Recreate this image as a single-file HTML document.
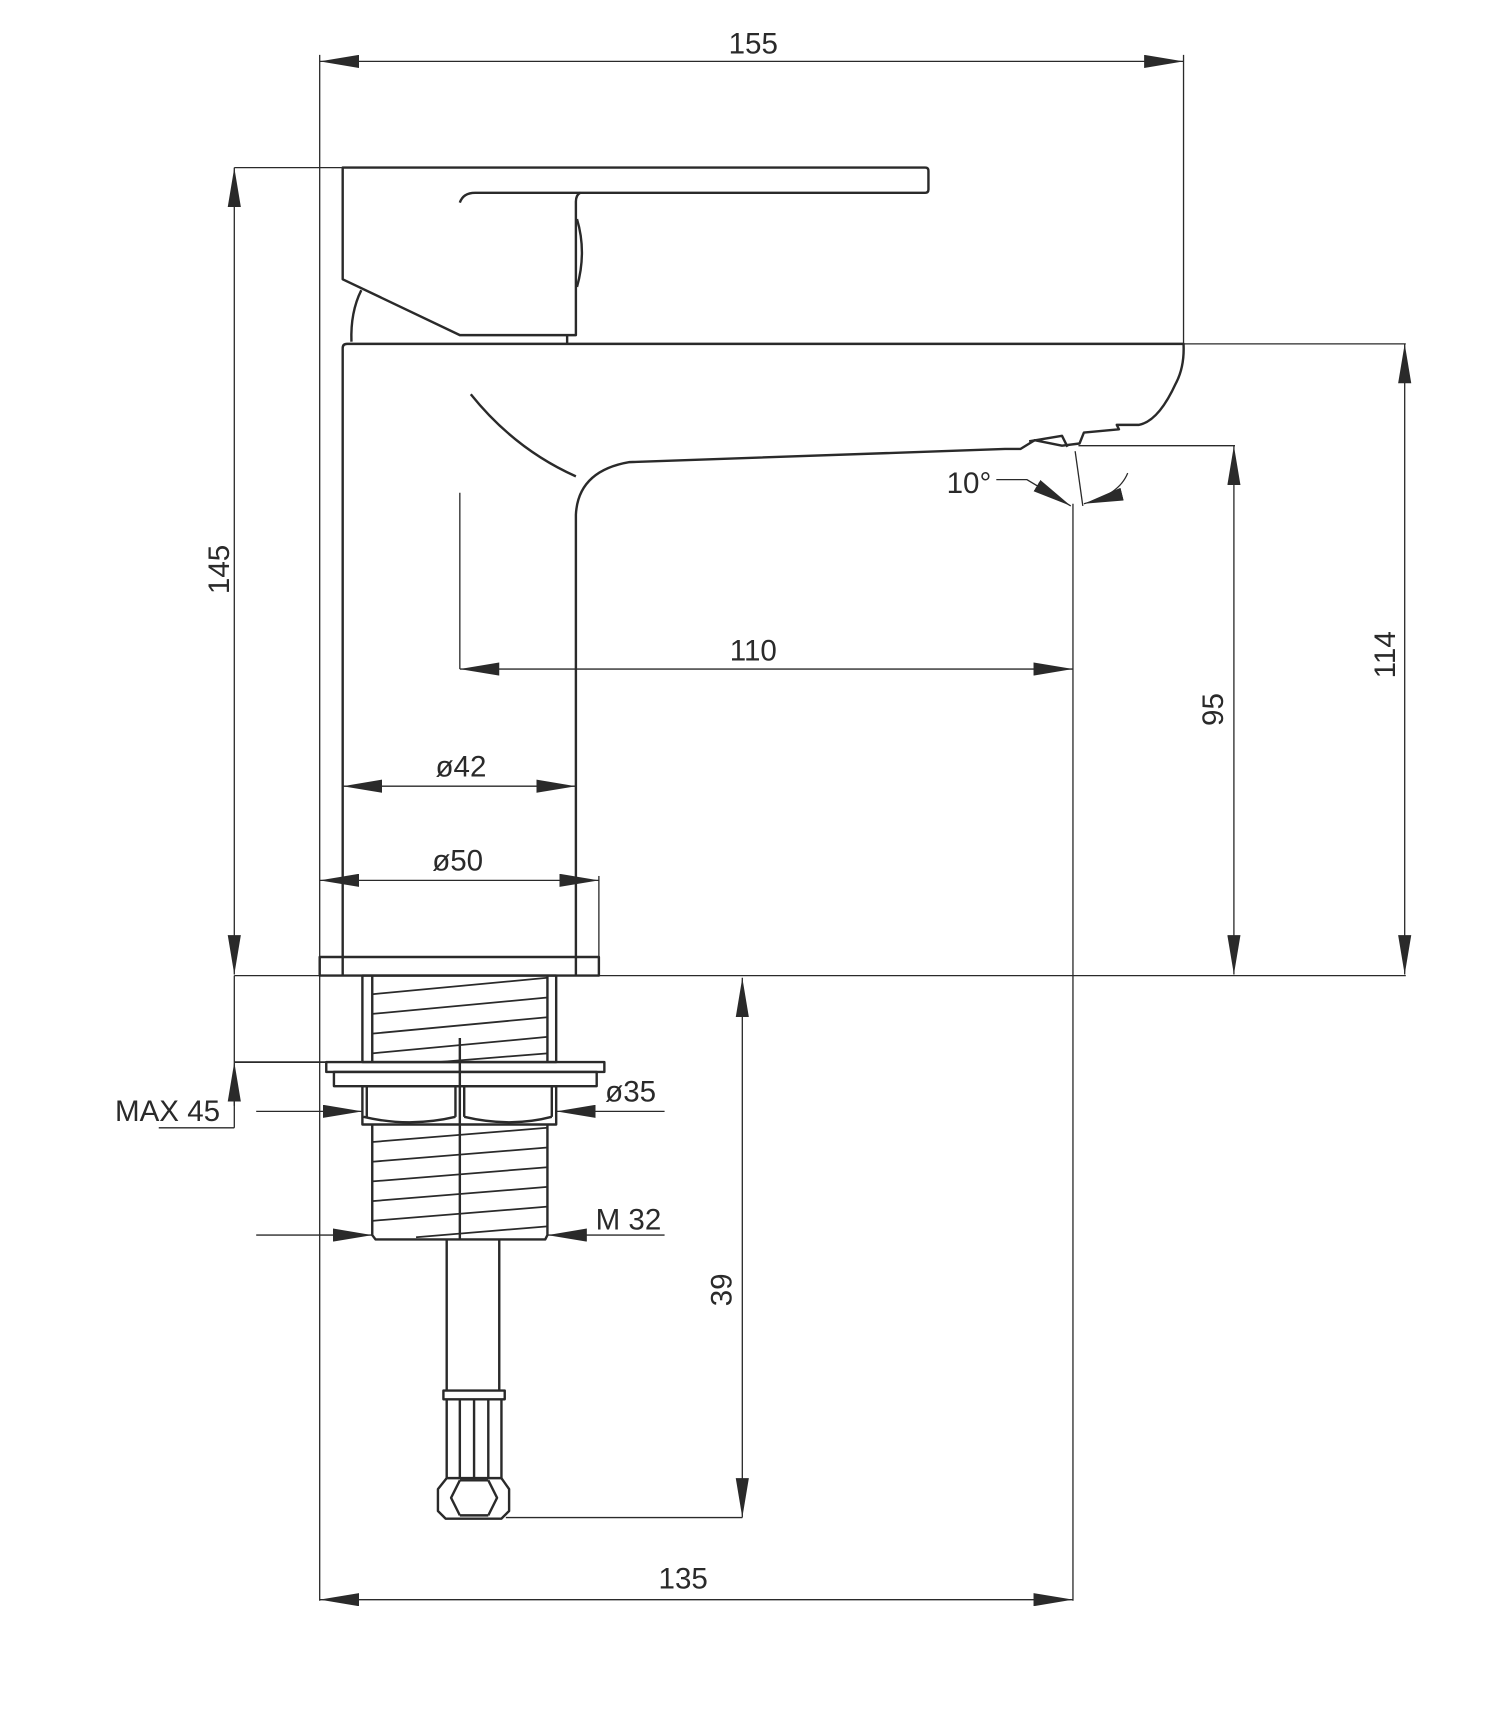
<!DOCTYPE html>
<html><head><meta charset="utf-8"><style>
html,body{margin:0;padding:0;background:#fff}
svg{display:block}
text{font-family:"Liberation Sans Narrow","Liberation Sans",sans-serif;font-size:27px;fill:#2a2a2a}
</style></head><body>
<svg width="1489" height="1718" viewBox="0 0 1360 1569" xmlns="http://www.w3.org/2000/svg">
<defs>
<marker id="a" viewBox="0 0 36 12" refX="36" refY="6" markerWidth="36" markerHeight="12" markerUnits="userSpaceOnUse" orient="auto-start-reverse"><path d="M0,0 L36,6 L0,12 Z" fill="#2a2a2a"/></marker>
</defs>
<g stroke="#2a2a2a" fill="none" stroke-width="1.2">
<!-- extension lines -->
<line x1="292" y1="50" x2="292" y2="1462"/>
<line x1="1081" y1="50" x2="1081" y2="314"/>
<line x1="214" y1="153" x2="312" y2="153"/>
<line x1="1081" y1="314" x2="1284" y2="314"/>
<line x1="985" y1="407" x2="1128" y2="407"/>
<line x1="980" y1="460" x2="980" y2="1462"/>
<line x1="420" y1="450" x2="420" y2="611"/>
<line x1="547" y1="800" x2="547" y2="875"/>
<line x1="214" y1="891" x2="1284" y2="891"/>
<line x1="462" y1="1386" x2="678" y2="1386"/>
<line x1="145" y1="1030" x2="214" y2="1030"/>
<line x1="214" y1="891" x2="214" y2="970"/>
<line x1="214" y1="1005" x2="214" y2="1030"/>
<!-- dimensions -->
<line x1="292" y1="56" x2="1081" y2="56" marker-start="url(#a)" marker-end="url(#a)"/>
<line x1="214" y1="153" x2="214" y2="890" marker-start="url(#a)" marker-end="url(#a)"/>
<line x1="1283" y1="314" x2="1283" y2="890" marker-start="url(#a)" marker-end="url(#a)"/>
<line x1="1127" y1="407" x2="1127" y2="890" marker-start="url(#a)" marker-end="url(#a)"/>
<line x1="420" y1="611" x2="980" y2="611" marker-start="url(#a)" marker-end="url(#a)"/>
<line x1="313" y1="718" x2="526" y2="718" marker-start="url(#a)" marker-end="url(#a)"/>
<line x1="292" y1="804" x2="547" y2="804" marker-start="url(#a)" marker-end="url(#a)"/>
<line x1="678" y1="893" x2="678" y2="1386" marker-start="url(#a)" marker-end="url(#a)"/>
<line x1="292" y1="1461" x2="980" y2="1461" marker-start="url(#a)" marker-end="url(#a)"/>
<line x1="214" y1="1010" x2="214" y2="970" marker-end="url(#a)"/>
<line x1="234" y1="1015" x2="331" y2="1015" marker-end="url(#a)"/>
<line x1="607" y1="1015" x2="508" y2="1015" marker-end="url(#a)"/>
<line x1="234" y1="1128" x2="340" y2="1128" marker-end="url(#a)"/>
<line x1="607" y1="1128" x2="500" y2="1128" marker-end="url(#a)"/>
<!-- 10 degree -->
<path d="M910,438 H938 L978,462" marker-end="url(#a)"/>
<line x1="982" y1="412" x2="989" y2="462"/>
<path d="M1030,432 Q1022,452 990,460" marker-end="url(#a)"/>
</g>
<g stroke="#2a2a2a" fill="none" stroke-width="2.2" stroke-linejoin="round">
<!-- lever -->
<path d="M313,153 H845 Q848,153 848,156 V173 Q848,176 845,176 H530 Q526,178 526,184 V306 H420 L313,255 Z"/>
<path d="M420,185 Q423,176 434,176 H530"/>
<path d="M527,200 Q536,230 527,262"/>
<path d="M330,265 Q320,285 321,312"/>
<line x1="518" y1="306" x2="518" y2="314"/>
<!-- body -->
<path d="M313,890 V318 Q313,314 317,314 H1081 Q1082,335 1074,350 Q1058,385 1040,388 H1020 L1022,392 L990,395 L986,405 L970,407 L945,402 L932,410 L918,410 L575,422 Q528,430 526,470 V890"/>
<path d="M430,360 Q470,410 526,435"/>
<path d="M940,403 L970,398 L975,408"/>
<!-- flange -->
<rect x="292" y="874" width="255" height="17"/>
<!-- upper tube -->
<rect x="331" y="891" width="177" height="79"/>
<line x1="340" y1="891" x2="340" y2="970"/>
<line x1="500" y1="891" x2="500" y2="970"/>
<line x1="214" y1="970" x2="552" y2="970" stroke-width="1.6"/>
<rect x="298" y="970" width="254" height="9"/>
<rect x="305" y="979" width="240" height="13"/>
<!-- nut -->
<rect x="331" y="992" width="177" height="35"/>
<line x1="335" y1="992" x2="335" y2="1020"/>
<line x1="504" y1="992" x2="504" y2="1020"/>
<line x1="416" y1="992" x2="416" y2="1020"/>
<line x1="424" y1="992" x2="424" y2="1020"/>
<path d="M332,1020 Q374,1030 416,1020 M424,1020 Q466,1030 504,1020"/>
<!-- lower thread -->
<path d="M340,1027 V1128 L343,1132 H498 L500,1128 V1027"/>
<line x1="420" y1="948" x2="420" y2="1132"/>
<!-- pipe -->
<path d="M408,1132 V1270 M456,1132 V1270"/>
<rect x="405" y="1270" width="56" height="8"/>
<path d="M408,1278 V1350 M458,1278 V1350 M420,1278 V1350 M446,1278 V1350 M433,1278 V1350"/>
<path d="M408,1350 L400,1360 V1380 L407,1387 H458 L465,1380 V1360 L458,1350 Z"/>
<path d="M420,1352 L412,1368 L420,1384 M446,1352 L454,1368 L446,1384 M420,1352 H446 M420,1384 H446"/>
</g>
<g stroke="#2a2a2a" stroke-width="1.6">
<line x1="340" y1="908" x2="500" y2="893"/>
<line x1="340" y1="926" x2="500" y2="911"/>
<line x1="340" y1="944" x2="500" y2="929"/>
<line x1="340" y1="962" x2="500" y2="947"/>
<line x1="400" y1="970" x2="500" y2="962"/>
<line x1="340" y1="1043" x2="500" y2="1030"/>
<line x1="340" y1="1061" x2="500" y2="1048"/>
<line x1="340" y1="1079" x2="500" y2="1066"/>
<line x1="340" y1="1097" x2="500" y2="1084"/>
<line x1="340" y1="1115" x2="500" y2="1102"/>
<line x1="380" y1="1130" x2="500" y2="1120"/>
</g>
<text x="688" y="49" text-anchor="middle">155</text>
<text x="688" y="603" text-anchor="middle">110</text>
<text x="421" y="709" text-anchor="middle">ø42</text>
<text x="418" y="795" text-anchor="middle">ø50</text>
<text x="576" y="1006" text-anchor="middle">ø35</text>
<text x="574" y="1123" text-anchor="middle">M 32</text>
<text x="153" y="1024" text-anchor="middle">MAX 45</text>
<text x="624" y="1451" text-anchor="middle">135</text>
<text x="885" y="450" text-anchor="middle">10°</text>
<text transform="translate(209,520) rotate(-90)" text-anchor="middle">145</text>
<text transform="translate(1274,598) rotate(-90)" text-anchor="middle">114</text>
<text transform="translate(1117,648) rotate(-90)" text-anchor="middle">95</text>
<text transform="translate(668,1178) rotate(-90)" text-anchor="middle">39</text>
</svg>
</body></html>
